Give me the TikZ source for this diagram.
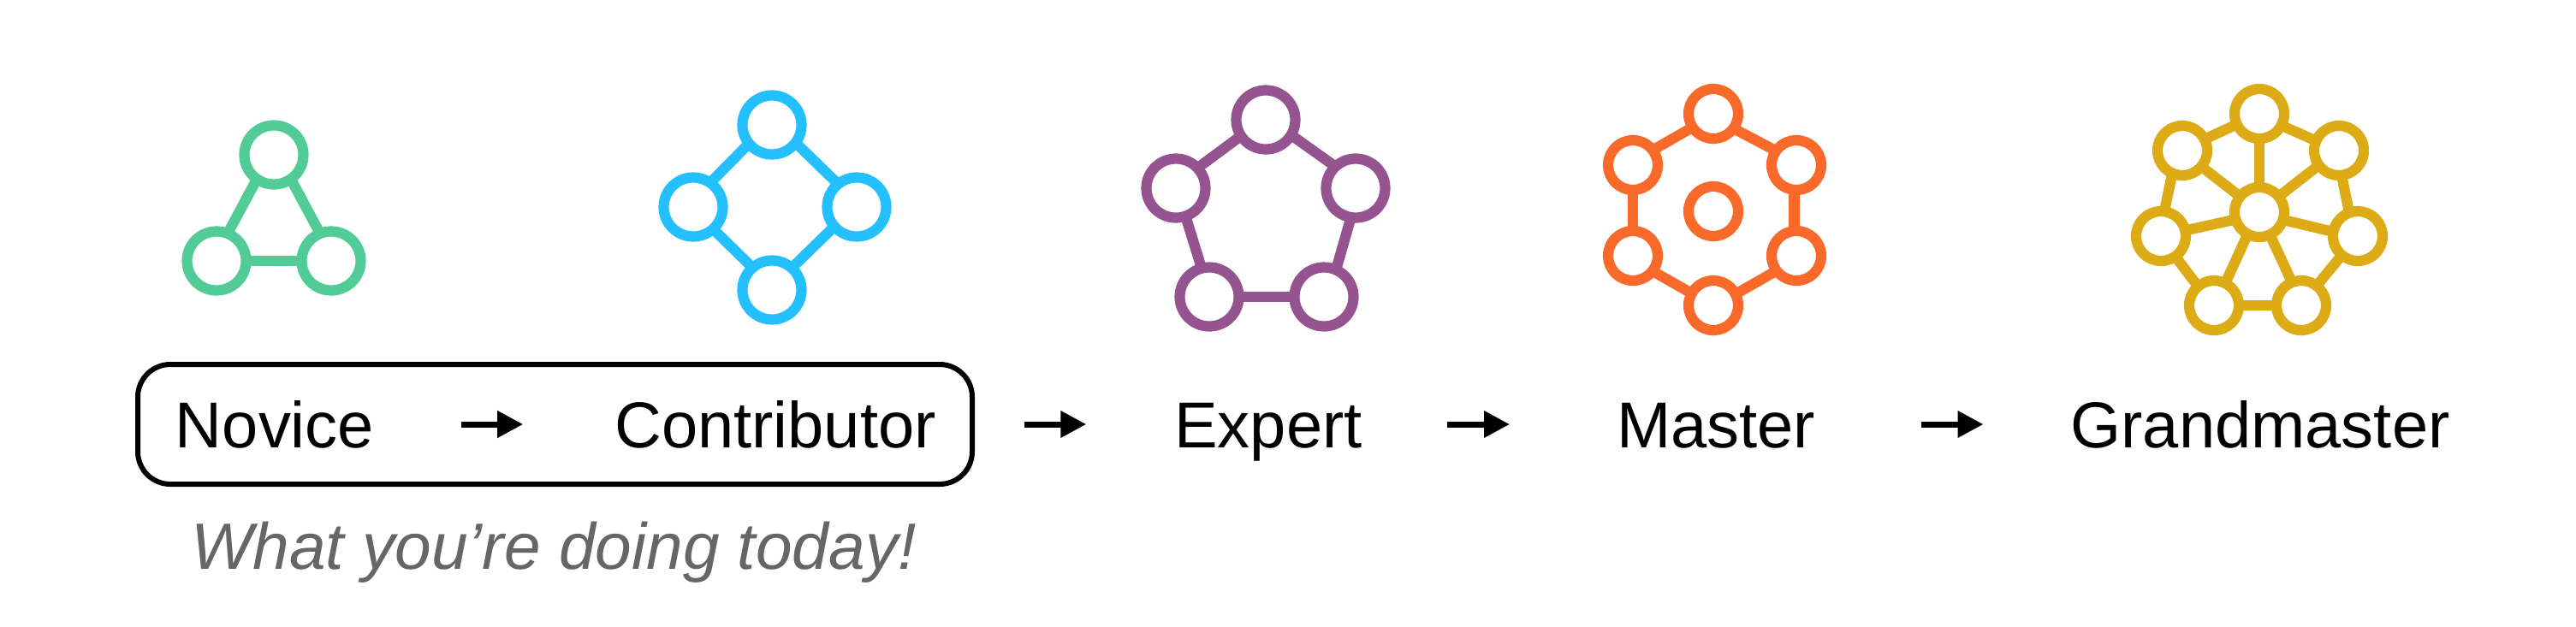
\documentclass[tikz,border=0pt]{standalone}
\usepackage{fontspec}
\setmainfont{Liberation Sans}
\usetikzlibrary{arrows.meta}
\definecolor{noviceCol}{HTML}{52CC96}
\definecolor{contribCol}{HTML}{23BFFF}
\definecolor{expertCol}{HTML}{95538F}
\definecolor{masterCol}{HTML}{F96A2A}
\definecolor{grandCol}{HTML}{DDAB16}
\begin{document}
\begin{tikzpicture}[every node/.style={inner sep=0pt, outer sep=0pt}, line width=.122cm,
	dot/.style={circle, draw, minimum size=.69cm},
	smalldot/.style={circle, draw, minimum size=.58cm},
	rank/.style={anchor=base, text height=.54cm, text depth=0pt, font=\fontsize{21.6pt}{26pt}\selectfont},
	step arrow/.style={-{Triangle[length=.30cm, width=.30cm]}, line width=.07cm, black}]
	\useasboundingbox (0,0) rectangle (30.10,-7.32);
	\node[dot, noviceCol] (noviceA) at (3.20,-1.81) {};
	\node[dot, noviceCol] (noviceB) at (2.53,-3.05) {};
	\node[dot, noviceCol] (noviceC) at (3.87,-3.05) {};
	\draw[noviceCol] (noviceA.235) -- (noviceB.68);
	\draw[noviceCol] (noviceA.305) -- (noviceC.112);
	\draw[noviceCol] (noviceB) -- (noviceC);
	\node[dot, contribCol] (contribA) at (9.02,-1.46) {};
	\node[dot, contribCol] (contribB) at (8.10,-2.42) {};
	\node[dot, contribCol] (contribC) at (10.01,-2.42) {};
	\node[dot, contribCol] (contribD) at (9.02,-3.39) {};
	\draw[contribCol] (contribA.219) -- (contribB.55);
	\draw[contribCol] (contribA.323) -- (contribC.129);
	\draw[contribCol] (contribB.312) -- (contribD.131);
	\draw[contribCol] (contribC.221) -- (contribD.48);
	\node[dot, expertCol] (expertA) at (14.79,-1.40) {};
	\node[dot, expertCol] (expertB) at (13.74,-2.20) {};
	\node[dot, expertCol] (expertC) at (15.84,-2.20) {};
	\node[dot, expertCol] (expertD) at (14.13,-3.47) {};
	\node[dot, expertCol] (expertE) at (15.47,-3.47) {};
	\draw[expertCol] (expertA.213) -- (expertB.43);
	\draw[expertCol] (expertA.329) -- (expertC.133);
	\draw[expertCol] (expertB.289) -- (expertD.105);
	\draw[expertCol] (expertC.261) -- (expertE.66);
	\draw[expertCol] (expertD) -- (expertE);
	\node[smalldot, masterCol] (masterA) at (20.02,-1.33) {};
	\node[smalldot, masterCol] (masterB) at (19.08,-1.93) {};
	\node[smalldot, masterCol] (masterC) at (20.99,-1.93) {};
	\node[smalldot, masterCol] (masterD) at (19.08,-2.99) {};
	\node[smalldot, masterCol] (masterE) at (20.99,-2.99) {};
	\node[smalldot, masterCol] (masterF) at (20.02,-3.57) {};
	\node[smalldot, masterCol] (masterG) at (20.02,-2.47) {};
	\draw[masterCol] (masterA.213) -- (masterB.37);
	\draw[masterCol] (masterA.324) -- (masterC.145);
	\draw[masterCol] (masterB) -- (masterD);
	\draw[masterCol] (masterC.265) -- (masterE.95);
	\draw[masterCol] (masterD.322) -- (masterF.151);
	\draw[masterCol] (masterE.217) -- (masterF.27);
	\node[smalldot, grandCol] (grandA) at (26.40,-1.33) {};
	\node[smalldot, grandCol] (grandB) at (25.50,-1.76) {};
	\node[smalldot, grandCol] (grandC) at (27.33,-1.76) {};
	\node[smalldot, grandCol] (grandD) at (25.25,-2.76) {};
	\node[smalldot, grandCol] (grandE) at (27.55,-2.76) {};
	\node[smalldot, grandCol] (grandF) at (25.87,-3.57) {};
	\node[smalldot, grandCol] (grandG) at (26.89,-3.57) {};
	\node[smalldot, grandCol] (grandH) at (26.40,-2.48) {};
	\draw[grandCol] (grandA.205) -- (grandB.27);
	\draw[grandCol] (grandA.332) -- (grandC.157);
	\draw[grandCol] (grandB.246) -- (grandD.82);
	\draw[grandCol] (grandC.276) -- (grandE.110);
	\draw[grandCol] (grandD.305) -- (grandF.130);
	\draw[grandCol] (grandE.230) -- (grandG.52);
	\draw[grandCol] (grandF) -- (grandG);
	\draw[grandCol] (grandH) -- (grandA);
	\draw[grandCol] (grandH.141) -- (grandB.320);
	\draw[grandCol] (grandH.39) -- (grandC.216);
	\draw[grandCol] (grandH.197) -- (grandD.13);
	\draw[grandCol] (grandH.342) -- (grandE.170);
	\draw[grandCol] (grandH.242) -- (grandF.63);
	\draw[grandCol] (grandH.295) -- (grandG.112);
	\node[draw, line width=.06cm, rounded corners=.38cm, minimum width=9.75cm, minimum height=1.40cm] (todayBox) at (6.485,-4.96) {};
	\node[rank] (novice) at (3.21,-5.23) {Novice};
	\node[rank] (contributor) at (9.06,-5.23) {Contributor};
	\node[rank] (expert) at (14.82,-5.23) {Expert};
	\node[rank] (master) at (20.05,-5.23) {Master};
	\node[rank] (grandmaster) at (26.41,-5.23) {Grandmaster};
	\draw[step arrow, shorten <=1.02cm, shorten >=1.07cm] (novice) -- (contributor);
	\draw[step arrow, shorten <=1.03cm, shorten >=1.03cm] (contributor) -- (expert);
	\draw[step arrow, shorten <=.99cm, shorten >=1.25cm] (expert) -- (master);
	\draw[step arrow, shorten <=1.24cm, shorten >=1.02cm] (master) -- (grandmaster);
	\node[anchor=base, text=black!60, font=\fontsize{21.8pt}{26pt}\selectfont\itshape] (todayText) at (6.47,-6.65) {What you’re doing today!};
\end{tikzpicture}
\end{document}
